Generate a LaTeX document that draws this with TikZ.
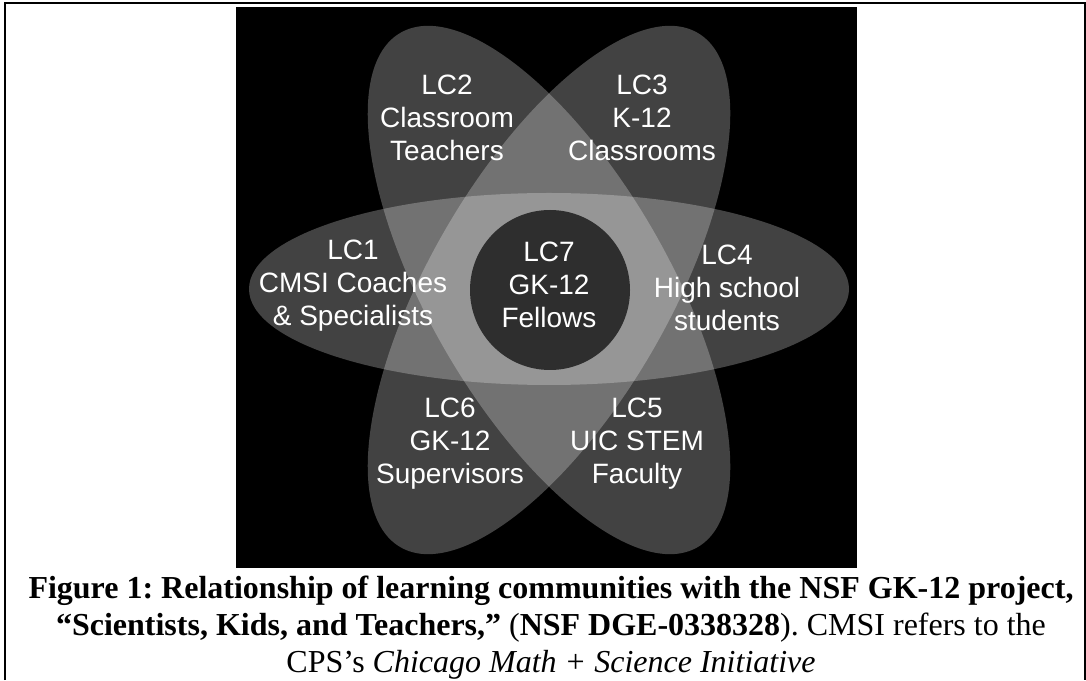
\documentclass[tikz,border=0pt]{standalone}
\usepackage{fontspec}
\setmainfont{Liberation Serif}
\newfontfamily\lcfont{Liberation Sans}
\usetikzlibrary{shapes.geometric}
\frenchspacing

\begin{document}
\begin{tikzpicture}[x = 0.5pt, y = 0.5pt, line width = 1pt]
    \tikzstyle{petal} = [shape = ellipse, fill = white, fill opacity = 0.26, inner sep = 0pt]
    \tikzstyle{flat} = [petal, minimum width = 300pt, minimum height = 96pt]
    \tikzstyle{slant} = [petal, minimum width = 297pt, minimum height = 120pt]
    \tikzstyle{hub} = [shape = circle, fill = black!82, inner sep = 0pt, minimum size = 80pt]
    \tikzstyle{lctext} = [text = white, align = center, font = \lcfont\fontsize{14}{16.5}\selectfont]

    \useasboundingbox (0,0) rectangle (1086,680);
    \draw (5,0) -- (5,677) -- (1084.5,677) -- (1084.5,0);

    \fill[black] (236,112) rectangle (857,673);

    \node[flat] (p14) at (549,391) {};
    \node[slant, rotate = -60] (p25) at (549,390) {};
    \node[slant, rotate = 60] (p36) at (549,390) {};
    \node[hub] (hub) at (550,390) {};

    \node[lctext] (lc1) at (353,394) {LC1\\CMSI Coaches\\\& Specialists};
    \node[lctext] (lc2) at (447,562) {LC2\\Classroom\\Teachers};
    \node[lctext] (lc3) at (642,562) {LC3\\K-12\\Classrooms};
    \node[lctext] (lc4) at (727,392) {LC4\\High school\\students};
    \node[lctext] (lc5) at (637,236) {LC5\\UIC STEM\\Faculty};
    \node[lctext] (lc6) at (450,236) {LC6\\GK-12\\Supervisors};
    \node[lctext] (lc7) at (549,395) {LC7\\GK-12\\Fellows};

    \node[align = center, anchor = north, inner sep = 0pt, font = \fontsize{16}{18.5}\selectfont] (caption) at (551,105)
        {\textbf{Figure 1: Relationship of learning communities with the NSF GK-12 project,}\\
        \textbf{``Scientists, Kids, and Teachers,''} (\textbf{NSF DGE-0338328}). CMSI refers to the\\
        CPS’s \textit{Chicago Math + Science Initiative}};
\end{tikzpicture}
\end{document}
